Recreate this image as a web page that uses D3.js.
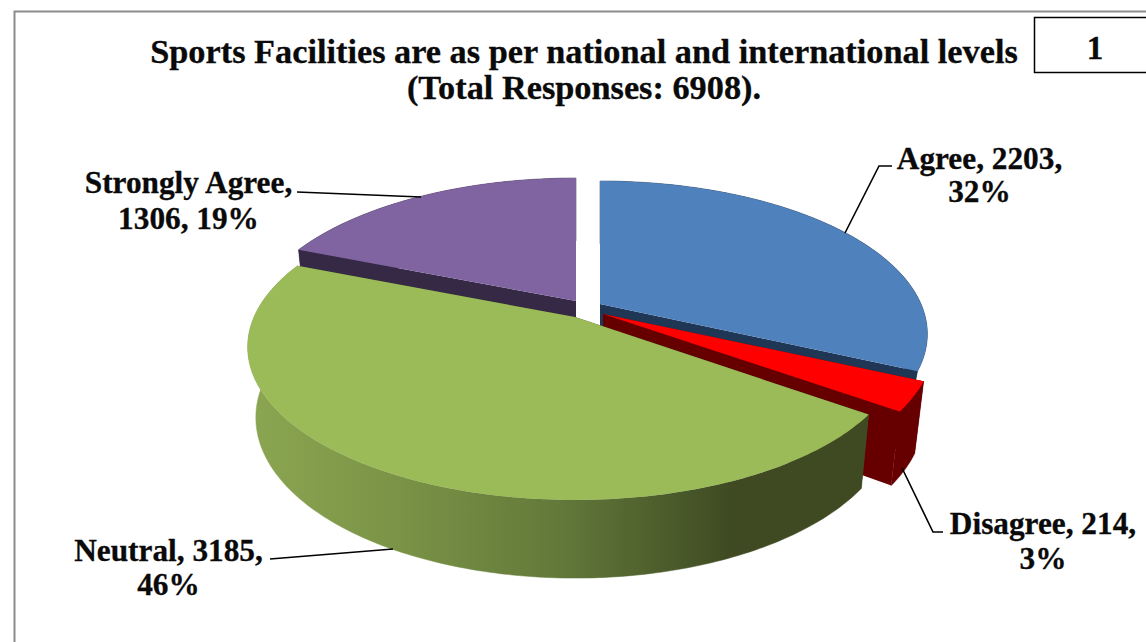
<!DOCTYPE html>
<html><head><meta charset="utf-8">
<script src="https://cdn.jsdelivr.net/npm/d3@7/dist/d3.min.js"></script>
<style>html,body{margin:0;padding:0;background:#fff;overflow:hidden}svg{display:block}
text{font-family:"Liberation Serif",serif;font-weight:bold;fill:#0a0a0a;stroke:#0a0a0a;stroke-width:.3px}</style>
</head><body><svg id="c" width="1146" height="642"></svg>
<script>
const categories = ["Agree","Disagree","Neutral","Strongly Agree"];
const responses = [2203,214,3185,1306];
const percents = ["32%","3%","46%","19%"];
const topColors = ["#4f81bd","#ff0000","#9bbb59","#8064a2"];
const cutColors = ["#1f3655","#660000","#3f4a22","#362945"];
const titleLines = ["Sports Facilities are as per national and international levels","(Total Responses: 6908)."];
const boxLabel = "1";

const svg = d3.select("#c");

// 3D projection settings
const rx=321, ry=147.1, k=0.196, depth=69, lowY=1.05;
const layout3d = {
  "Agree":{c:[600,304],lowX:0.955,s:1},
  "Disagree":{c:[603,314],lowX:0.972,s:1.01},
  "Neutral":{c:[575,317],lowX:0.975,s:1},
  "Strongly Agree":{c:[576,301],lowX:0.975,s:1}
};
const pie = d3.pie().sort(null).value(d=>d.v);
const arcs = pie(categories.map((c,i)=>({c,v:responses[i],i})));

function project(c,a,s){
  const u=Math.sin(a), v=-Math.cos(a), w=1/(1-k*v);
  return [c[0]+rx*s*u*w, c[1]+ry*v*w];
}
function lower(c,p,lowX){ return [c[0]+(p[0]-c[0])*lowX, c[1]+(p[1]-c[1])*lowY+depth]; }
const line=d3.line();
const defs=svg.append("defs");
const grad=defs.append("linearGradient").attr("id","wall").attr("gradientUnits","userSpaceOnUse")
  .attr("x1",250).attr("x2",866).attr("y1",0).attr("y2",0);
[[0,"#8ba652"],[0.24,"#7a9346"],[0.5,"#63793a"],[0.72,"#465528"],[0.78,"#3f4a22"],[1,"#3f4a22"]]
  .forEach(s=>grad.append("stop").attr("offset",s[0]).attr("stop-color",s[1]));

// frame
svg.append("path").attr("d",line([[14.5,642],[14.5,11.5],[1146,11.5]]))
  .attr("fill","none").attr("stroke","#8c8c8c").attr("stroke-width",2);

// slices back to front
const order=["Strongly Agree","Agree","Disagree","Neutral"];
const g=svg.append("g");
order.forEach(name=>{
  const d=arcs.find(a=>a.data.c===name), i=d.data.i, cfg=layout3d[name], c=cfg.c, lowX=cfg.lowX;
  const n=Math.max(12,Math.ceil((d.endAngle-d.startAngle)*60));
  const angles=d3.range(n+1).map(j=>d.startAngle+(d.endAngle-d.startAngle)*j/n);
  const rim=angles.map(a=>project(c,a,cfg.s));
  const low=rim.map(p=>lower(c,p,lowX));
  const cl=lower(c,c,lowX);
  const wallFill = name==="Neutral" ? "url(#wall)" : cutColors[i];
  [0,n].forEach(j=>{
    g.append("path").attr("d",line([c,rim[j],low[j],cl])+"Z").attr("fill",cutColors[i]);
  });
  g.append("path").attr("d",line(rim.concat(low.slice().reverse()))+"Z").attr("fill",wallFill)
    .attr("stroke",wallFill).attr("stroke-width",0.5);
  g.append("path").attr("d",line([c].concat(rim))+"Z").attr("fill",topColors[i]);
});

// leader lines
const leaders=[
  [[845,233],[879,166],[892,166]],
  [[297,192],[421,197]],
  [[270,559],[393,549]],
  [[902,468],[933,532],[943,532]]
];
leaders.forEach(l=>svg.append("path").attr("d",line(l)).attr("fill","none").attr("stroke","#000").attr("stroke-width",1.6));

// data labels
const labelPos={
  "Agree":{x:979.5,y1:169,y2:202},
  "Disagree":{x:1043,y1:534,y2:569},
  "Neutral":{x:168.5,y1:561,y2:595},
  "Strongly Agree":{x:188.5,y1:193,y2:229}
};
arcs.forEach(a=>{
  const p=labelPos[a.data.c], i=a.data.i;
  const name=a.data.c, val=responses[i], pct=percents[i];
  const first = name==="Strongly Agree" ? name+"," : `${name}, ${val},`;
  const second = name==="Strongly Agree" ? `${val}, ${pct}` : pct;
  const t=svg.append("g").attr("font-size",31.3).attr("text-anchor","middle");
  t.append("text").attr("x",p.x).attr("y",p.y1).text(first);
  t.append("text").attr("x",p.x).attr("y",p.y2).text(second);
});

// title
titleLines.forEach((s,i)=>svg.append("text").attr("x",584).attr("y",i?99:63)
  .attr("text-anchor","middle").attr("font-size",34.3).text(s));

// number box
svg.append("rect").attr("x",1034.5).attr("y",17.5).attr("width",130).attr("height",55)
  .attr("fill","#fff").attr("stroke","#000").attr("stroke-width",1.5);
svg.append("text").attr("x",1095).attr("y",59).attr("text-anchor","middle").attr("font-size",33).text(boxLabel);
</script></body></html>
